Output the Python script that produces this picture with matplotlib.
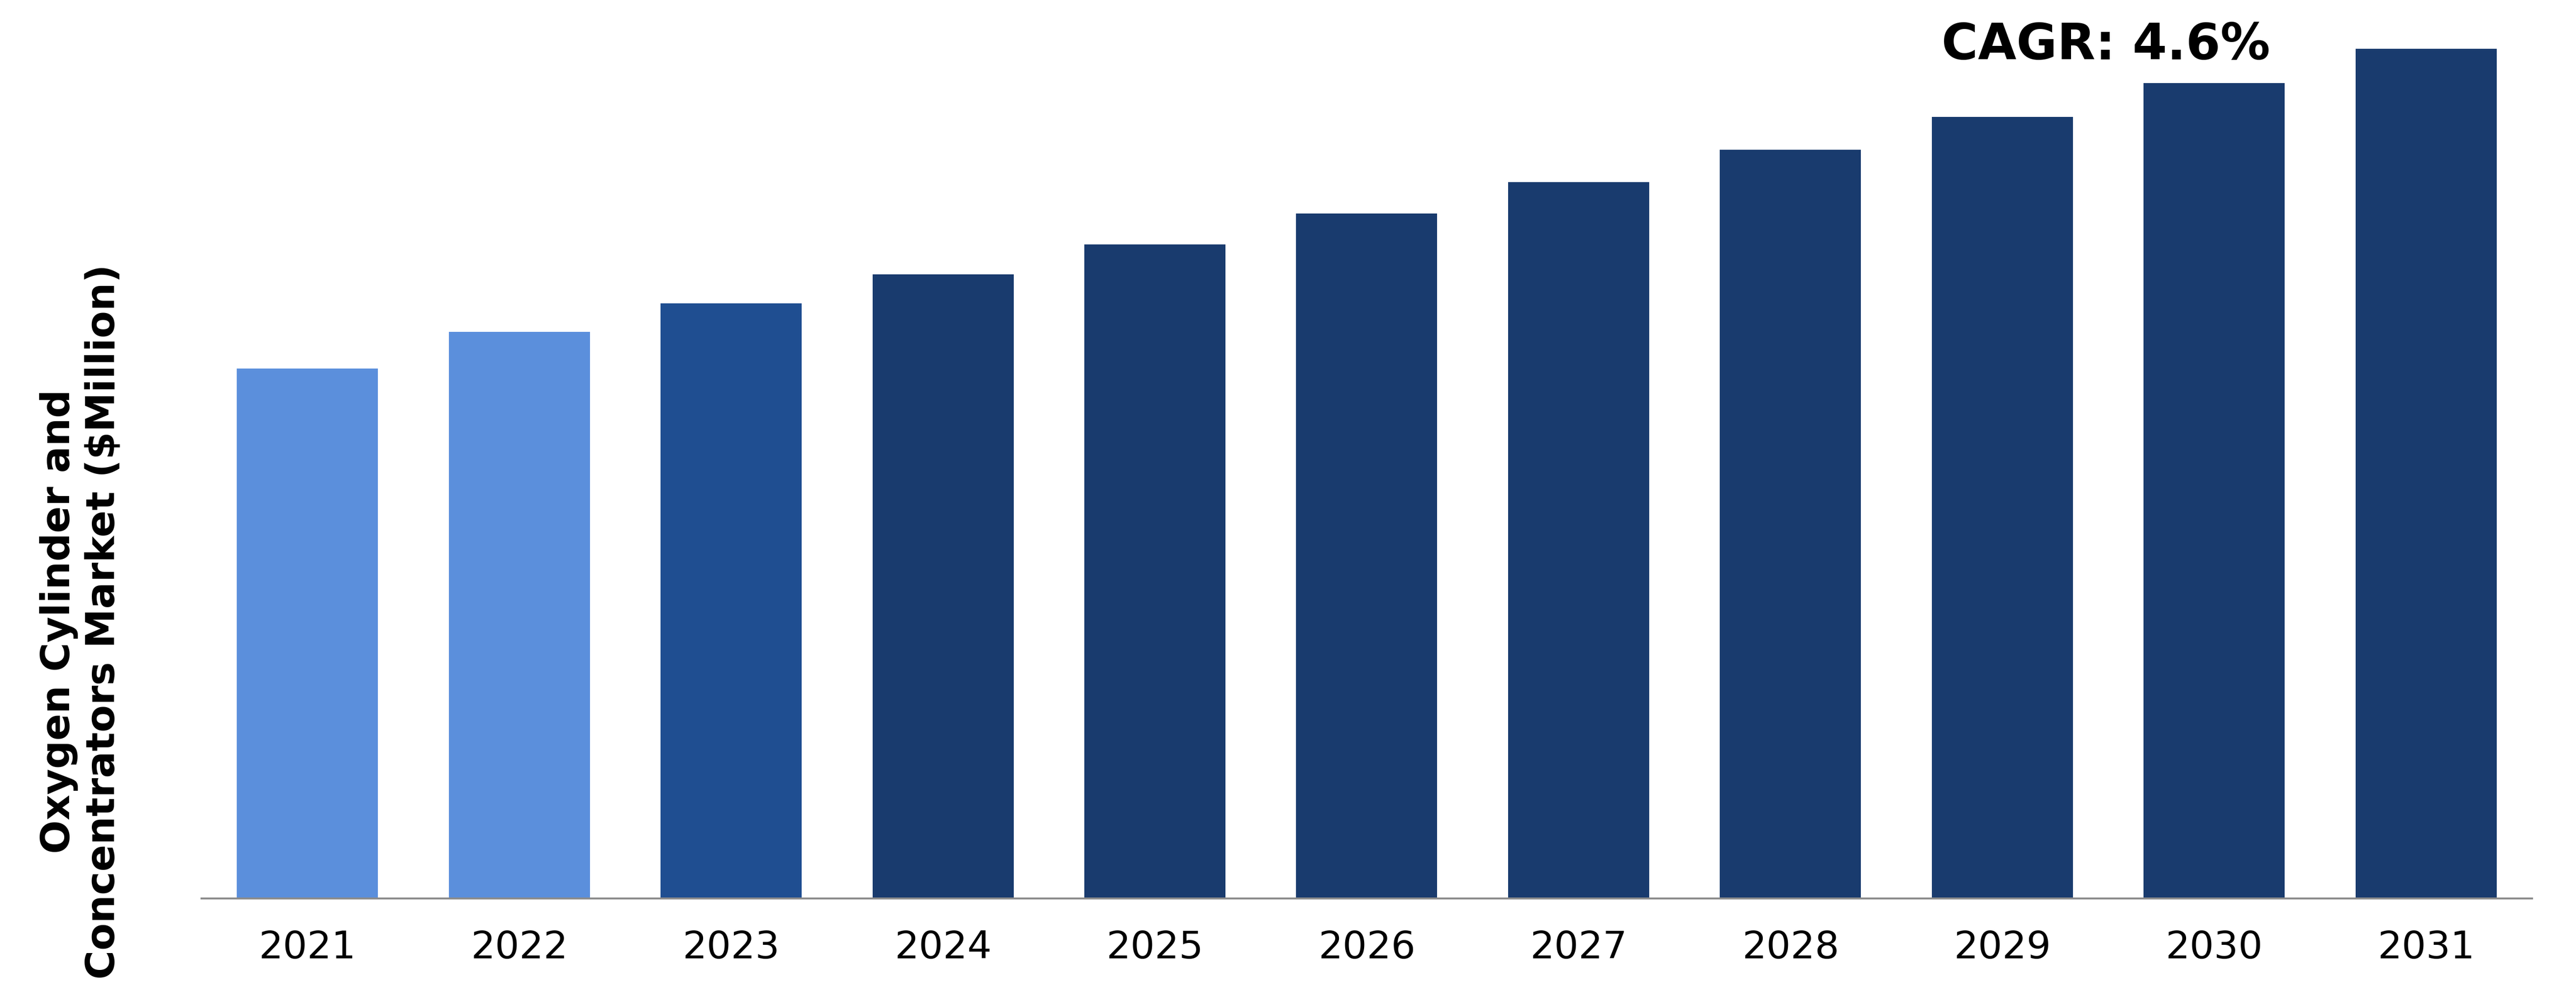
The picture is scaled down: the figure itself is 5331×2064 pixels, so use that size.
import numpy as np
import matplotlib
matplotlib.use('Agg')
import matplotlib.pyplot as plt

years = ['2021', '2022', '2023', '2024', '2025', '2026', '2027', '2028', '2029', '2030', '2031']
market = [1097, 1173, 1232, 1292, 1354, 1418, 1483, 1550, 1618, 1688, 1759]
bar_colors = ['#5b8fdc', '#5b8fdc', '#1f4e91'] + ['#193b6e'] * 8

plt.rcParams['font.family'] = 'DejaVu Sans'

fig = plt.figure(figsize=(53.31, 20.64), dpi=100)
ax = fig.add_axes([0.0782, 0.0988, 0.98293 - 0.0782, 1 - 0.0988])

x = np.arange(len(years))
ax.bar(x, market, width=0.666, color=bar_colors)

ax.set_xlim(-0.5, len(years) - 0.5)
ax.set_ylim(0, 1860)
ax.set_xticks(x)
ax.set_xticklabels(years, fontsize=57)
ax.tick_params(axis='x', length=0, pad=46)
ax.set_yticks([])

for s in ['top', 'right', 'left']:
    ax.spines[s].set_visible(False)
ax.spines['bottom'].set_color('#8c8c8c')
ax.spines['bottom'].set_linewidth(2.9)

fig.text(0.0315, 0.3765, 'Oxygen Cylinder and\nConcentrators Market ($Million)',
         rotation=90, ha='center', va='center', fontsize=59, fontweight='bold',
         multialignment='center')

fig.text(0.8175, 1 - 123 / 2064, 'CAGR: 4.6%', ha='center', va='baseline',
         fontsize=74, fontweight='bold')

fig.savefig('out.png', dpi=100)
